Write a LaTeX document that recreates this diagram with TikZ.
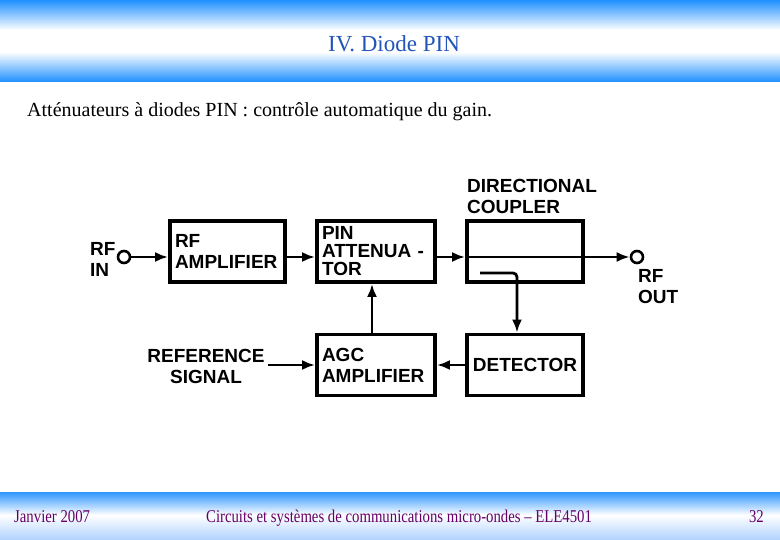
\documentclass[tikz,border=0pt]{standalone}
\usepackage{fontspec}
\setmainfont{Liberation Serif}
\newfontfamily\diagfont{Liberation Sans}
\usetikzlibrary{arrows.meta}
\definecolor{hblue}{RGB}{30,144,255}
\definecolor{fblue}{RGB}{45,150,255}
\definecolor{lblue}{RGB}{175,210,255}
\definecolor{titleblue}{RGB}{35,85,185}
\definecolor{footpurple}{RGB}{102,0,102}
\newcommand\dfont{\diagfont\bfseries\fontsize{19}{21}\selectfont}
\begin{document}
\begin{tikzpicture}[x=1pt,y=-1pt,
  box/.style={draw, line width=3.8pt, minimum height=61pt, inner xsep=5pt, inner ysep=0pt,
              text width=#1, align=left, font=\dfont},
  arr/.style={line width=2.8pt, -{Latex[length=13pt,width=10pt]}},
  lbl/.style={font=\dfont, inner sep=0pt},
  port/.style={circle, draw, line width=2.6pt, minimum size=12pt, inner sep=0pt},
  foot/.style={text=footpurple, inner sep=0pt, font=\fontsize{18}{20}\selectfont}]
\useasboundingbox (0,0) rectangle (780,540);
% header band
\shade[top color=hblue, bottom color=white] (0,0) rectangle (780,30);
\fill[white] (0,30) rectangle (780,52);
\shade[top color=white, bottom color=hblue] (0,52) rectangle (780,82);
% footer band
\shade[top color=fblue, bottom color=white] (0,492) rectangle (780,515);
\shade[top color=white, bottom color=lblue] (0,515) rectangle (780,540);
% title
\node[text=titleblue, inner sep=0pt, font=\fontsize{23}{25}\selectfont, anchor=base] (title) at (394,52) {IV. Diode PIN};
% subtitle
\node[inner sep=0pt, font=\fontsize{20}{22}\selectfont, anchor=base west] (sub) at (27,117) {Atténuateurs à diodes PIN : contrôle automatique du gain.};
% footer
\node[foot, anchor=base west] (f1) at (14,522) {\scalebox{0.82}[1]{Janvier 2007}};
\node[foot, anchor=base west] (f2) at (206,522) {\scalebox{0.82}[1]{Circuits et systèmes de communications micro-ondes – ELE4501}};
\node[foot, anchor=base east] (f3) at (764,522) {\scalebox{0.82}[1]{32}};
% boxes
\node[box=105] (rfamp) at (227.5,251.5) {RF\\AMPLIFIER};
\node[box=108, font=\diagfont\bfseries\fontsize{19}{18}\selectfont] (pin) at (376,251.5) {PIN\\ATTENUA -\\TOR};
\node[box=106] (dc) at (525,251.5) {};
\node[box=106, align=center] (det) at (525,365) {DETECTOR};
\node[box=108] (agc) at (376,365) {AGC\\AMPLIFIER};
% ports
\node[port] (in) at (124,257) {};
\node[port] (out) at (637,257) {};
% labels
\node[lbl, align=left, anchor=north west] (rfin) at (90,242) {RF\\IN};
\node[lbl, align=left, anchor=north west] (rfout) at (638,269) {RF\\OUT};
\node[lbl, align=left, anchor=north west] (dclbl) at (467,179) {DIRECTIONAL\\COUPLER};
\node[font=\dfont, align=center, inner sep=3pt] (ref) at (206,366) {REFERENCE\\SIGNAL};
% connectors
\draw[arr] (in.east) -- (in.east -| rfamp.west);
\draw[arr] (rfamp.east |- in.east) -- (pin.west |- in.east);
\draw[arr] (pin.east |- in.east) -- (dc.west |- in.east);
\draw[arr] (dc.west |- in.east) -- (out.west);
\coordinate (cpl) at (480,273);
\coordinate (cdown) at (517,273);
\draw[arr, rounded corners=4pt] (cpl) -- (cdown) -- (cdown |- det.north);
\draw[arr] (det.west) -- (agc.east);
\draw[arr] ([xshift=-4pt]agc.north) -- ([xshift=-4pt]pin.south);
\draw[arr] (ref.east |- agc.west) -- (agc.west);
\end{tikzpicture}
\end{document}
